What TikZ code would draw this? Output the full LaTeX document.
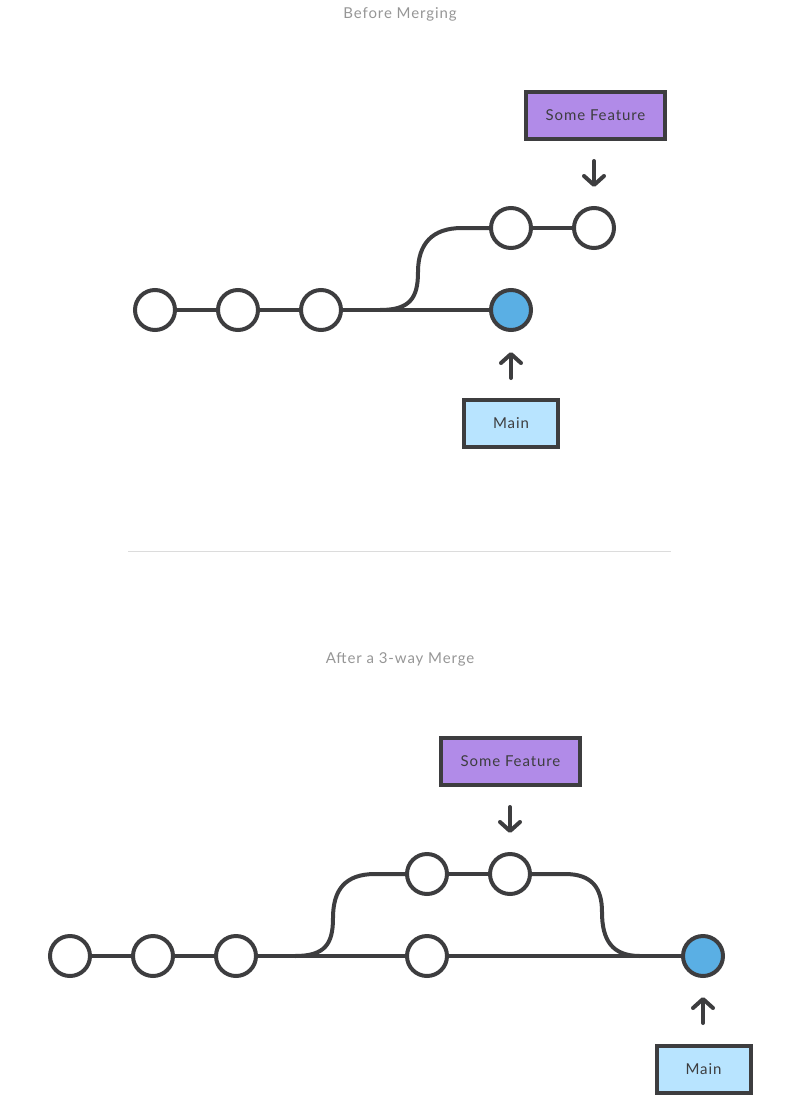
\documentclass[tikz,border=0pt]{standalone}
\usepackage{fontspec}
\setmainfont{Lato}
\newfontfamily\labelfont[LetterSpace=6]{Lato}
\usetikzlibrary{arrows.meta}
\definecolor{ink}{RGB}{61,61,63}
\definecolor{bluefill}{RGB}{90,175,228}
\definecolor{purplefill}{RGB}{177,139,232}
\definecolor{lightblue}{RGB}{184,228,255}
\definecolor{titlegray}{RGB}{150,150,150}
\definecolor{sepgray}{RGB}{220,220,220}
\tikzset{
  commit/.style={circle, draw=ink, line width=4pt, fill=white, minimum size=40pt, inner sep=0pt},
  tipcommit/.style={commit, fill=bluefill},
  edge/.style={draw=ink, line width=4pt},
  featbox/.style={rectangle, draw=ink, line width=4pt, fill=purplefill, minimum width=139pt, minimum height=47pt, inner sep=0pt, font=\labelfont\fontsize{15pt}{17pt}\selectfont, text=ink},
  mainbox/.style={rectangle, draw=ink, line width=4pt, fill=lightblue, minimum width=94pt, minimum height=47pt, inner sep=0pt, font=\labelfont\fontsize{15pt}{17pt}\selectfont, text=ink},
  pointer/.style={draw=ink, line width=4pt, line cap=round, -{Straight Barb[length=9pt, width=20pt, round]}},
  title/.style={text=titlegray, font=\labelfont\fontsize{15pt}{17pt}\selectfont},
}
\begin{document}
\begin{tikzpicture}[x=1pt, y=-1pt]
\useasboundingbox (0,0) rectangle (800,1103);
% ---------- Before merging ----------
\node[title] (t1) at (400,14) {Before Merging};
\node[commit] (a1) at (155,310) {};
\node[commit] (a2) at (238,310) {};
\node[commit] (a3) at (321,310) {};
\node[tipcommit] (am) at (511,310) {};
\node[commit] (af1) at (511,228) {};
\node[commit] (af2) at (594,228) {};
\coordinate (abr) at (380,310);
\draw[edge] (a1) -- (a2);
\draw[edge] (a2) -- (a3);
\draw[edge] (a3) -- (am);
\draw[edge] (af1) -- (af2);
\draw[edge] (abr) .. controls (410,310) and (418,298) .. (418,272)
  .. controls (418,244) and (432,228) .. (462,228) -- (af1);
\node[featbox] (afb) at (595.5,115.5) {Some Feature};
\node[mainbox] (amb) at (511,423.5) {Main};
\coordinate (afa) at (594,161);
\coordinate (ama) at (511,378);
\draw[pointer] (afa) -- (594,187);
\draw[pointer] (ama) -- (511,352);
% ---------- separator ----------
\coordinate (s1) at (128,551);
\coordinate (s2) at (671,551);
\draw[sepgray, line width=1pt] (s1) -- (s2);
% ---------- After merge ----------
\node[title] (t2) at (400,659) {After a 3-way Merge};
\node[commit] (b1) at (70,956) {};
\node[commit] (b2) at (153,956) {};
\node[commit] (b3) at (236,956) {};
\node[commit] (b4) at (427,956) {};
\node[tipcommit] (bm) at (703,956) {};
\node[commit] (bf1) at (427,874) {};
\node[commit] (bf2) at (510,874) {};
\coordinate (bbr) at (295,956);
\coordinate (bmg) at (640,956);
\draw[edge] (b1) -- (b2);
\draw[edge] (b2) -- (b3);
\draw[edge] (b3) -- (b4);
\draw[edge] (b4) -- (bm);
\draw[edge] (bf1) -- (bf2);
\draw[edge] (bbr) .. controls (325,956) and (333,944) .. (333,918)
  .. controls (333,890) and (345,874) .. (375,874) -- (bf1);
\draw[edge] (bf2) -- (565,874) .. controls (592,874) and (602,888) .. (602,912)
  .. controls (602,940) and (612,956) .. (bmg);
\node[featbox] (bfb) at (510.5,761.5) {Some Feature};
\node[mainbox] (bmb) at (703.5,1069) {Main};
\coordinate (bfa) at (510,807);
\coordinate (bma) at (703,1023);
\draw[pointer] (bfa) -- (510,833);
\draw[pointer] (bma) -- (703,997);
\end{tikzpicture}
\end{document}
